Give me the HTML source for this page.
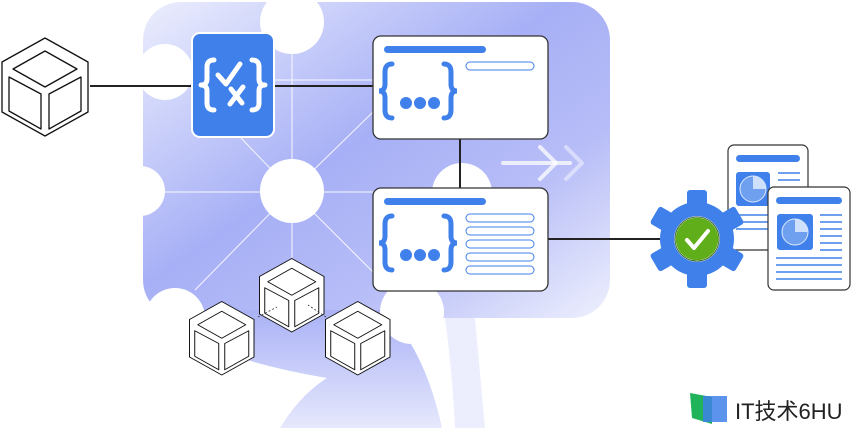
<!DOCTYPE html>
<html><head><meta charset="utf-8"><style>
html,body{margin:0;padding:0;background:#fff;width:851px;height:428px;overflow:hidden;}
svg{display:block}
</style></head><body>
<svg width="851" height="428" viewBox="0 0 851 428" xmlns="http://www.w3.org/2000/svg">
<defs>
<linearGradient id="bg" x1="0" y1="0" x2="1" y2="1">
<stop offset="0" stop-color="#eceefd"/>
<stop offset="0.45" stop-color="#a7b0f6"/>
<stop offset="0.7" stop-color="#b7bdf7"/>
<stop offset="1" stop-color="#eef0fd"/>
</linearGradient>
<linearGradient id="bg2" x1="0" y1="0" x2="0" y2="1">
<stop offset="0" stop-color="#aab2f6"/>
<stop offset="1" stop-color="#e6e8fc"/>
</linearGradient>
<g id="cube" fill="#fff" stroke="#111" stroke-width="1.3" stroke-linejoin="round">
<polygon points="45,2 88,26 88,76 45,100 2,76 2,26"/>
<polygon points="45,15 77,33 45,51 13,33"/>
<polygon points="9,41 41,58 41,93 9,75"/>
<polygon points="49,58 81,41 81,75 49,93"/>
</g>
</defs>
<rect x="143" y="2" width="467" height="316" rx="38" fill="url(#bg)"/>
<path d="M195 310 L385 310 Q425 350 442 428 L280 428 Q300 395 327 378 Q250 365 200 343 Z" fill="url(#bg2)"/>
<path d="M445 318 L475 318 L485 428 L455 428 Q452 370 445 318 Z" fill="#eceefd"/>
<g fill="#fff">
<circle cx="292" cy="22" r="32"/>
<circle cx="165" cy="72" r="28"/>
<circle cx="140" cy="191" r="25"/>
<circle cx="175" cy="318" r="30"/>
<circle cx="462" cy="193" r="30"/>
<circle cx="412" cy="312" r="32"/>
</g>
<g stroke="#fff" stroke-width="1" opacity="0.9">
<line x1="292" y1="54" x2="292" y2="300"/>
<line x1="143" y1="192" x2="373" y2="192"/>
<line x1="240" y1="137" x2="292" y2="191"/>
<line x1="373" y1="112" x2="292" y2="191"/>
<line x1="373" y1="272" x2="292" y2="191"/>
<line x1="195" y1="290" x2="292" y2="191"/>
<line x1="274" y1="80" x2="373" y2="80"/>
</g>
<circle cx="292" cy="191" r="32" fill="#fff"/>
<g fill="none" stroke="#fff" stroke-width="4" stroke-linecap="round" stroke-linejoin="round">
<line x1="503" y1="163" x2="570" y2="163" opacity="0.75"/>
<polyline points="540,147 556,163 540,179" opacity="0.75"/>
<polyline points="566,147 582,163 566,179" opacity="0.45"/>
</g>
<g stroke="#222" stroke-width="2">
<line x1="90" y1="86" x2="192" y2="86"/>
<line x1="274" y1="86" x2="373" y2="86"/>
<line x1="460" y1="139" x2="460" y2="188"/>
<line x1="548" y1="239" x2="660" y2="239"/>
</g>
<rect x="192" y="33" width="82" height="104" rx="8" fill="#3f80ea" stroke="#fff" stroke-width="2"/>
<g fill="none" stroke="#fff" stroke-width="5" stroke-linecap="round" stroke-linejoin="round">
<path d="M214 60 q-7 0 -7 7 v12 q0 6 -6 6 q6 0 6 6 v12 q0 7 7 7"/>
<path d="M252 60 q7 0 7 7 v12 q0 6 6 6 q-6 0 -6 6 v12 q0 7 -7 7"/>
<polyline points="218,75 226,84 240,64"/>
<line x1="230" y1="104" x2="243" y2="87"/>
<line x1="231" y1="89" x2="242" y2="103"/>
</g>
<g>
<rect x="373" y="36" width="175" height="103" rx="8" fill="#fff" stroke="#333" stroke-width="1.3"/>
<rect x="384" y="46" width="102" height="7" rx="3.5" fill="#3f80ea"/>
<rect x="466" y="62" width="68" height="8" rx="4" fill="#fff" stroke="#3f80ea" stroke-width="1"/>
<rect x="373" y="188" width="175" height="103" rx="8" fill="#fff" stroke="#333" stroke-width="1.3"/>
<rect x="384" y="198" width="102" height="7" rx="3.5" fill="#3f80ea"/>
<g fill="#fff" stroke="#3f80ea" stroke-width="1">
<rect x="466" y="214" width="68" height="8" rx="4"/>
<rect x="466" y="227" width="68" height="8" rx="4"/>
<rect x="466" y="240" width="68" height="8" rx="4"/>
<rect x="466" y="253" width="68" height="8" rx="4"/>
<rect x="466" y="266" width="68" height="8" rx="4"/>
</g>
<g fill="none" stroke="#3f80ea" stroke-width="5" stroke-linecap="round">
<path d="M392 64 q-7 0 -7 8 v12 q0 7 -6 7 q6 0 6 7 v12 q0 8 7 8"/>
<path d="M444 64 q7 0 7 8 v12 q0 7 6 7 q-6 0 -6 7 v12 q0 8 -7 8"/>
<path d="M392 216 q-7 0 -7 8 v12 q0 7 -6 7 q6 0 6 7 v12 q0 8 7 8"/>
<path d="M444 216 q7 0 7 8 v12 q0 7 6 7 q-6 0 -6 7 v12 q0 8 -7 8"/>
</g>
<g fill="#3f80ea">
<circle cx="406" cy="103" r="6"/><circle cx="420" cy="103" r="6"/><circle cx="434" cy="103" r="6"/>
<circle cx="406" cy="255" r="6"/><circle cx="420" cy="255" r="6"/><circle cx="434" cy="255" r="6"/>
</g>
</g>
<use href="#cube" x="0" y="36"/>
<use href="#cube" transform="translate(258,257) scale(0.75)"/>
<use href="#cube" transform="translate(188,300) scale(0.75)"/>
<use href="#cube" transform="translate(324,300) scale(0.75)"/>
<g stroke="#333" stroke-width="0.8" stroke-dasharray="2,2" fill="none">
<line x1="258" y1="317" x2="277" y2="307"/>
<line x1="326" y1="317" x2="308" y2="305"/>
</g>
<g>
<rect x="728" y="145" width="80" height="105" rx="6" fill="#fff" stroke="#333" stroke-width="1.2"/>
<rect x="736" y="155" width="64" height="7" rx="3.5" fill="#3f80ea"/>
<rect x="736" y="172" width="34" height="34" rx="3" fill="#3f80ea"/>
<circle cx="753" cy="189" r="13" fill="#6fa0f0" stroke="#dce8fd"/>
<path d="M753 189 V176 A13 13 0 0 1 766 189 Z" fill="#cfe0fc"/>
<g stroke="#3f80ea" stroke-width="1.5"><line x1="778" y1="173" x2="800" y2="173"/><line x1="778" y1="180" x2="800" y2="180"/><line x1="736" y1="215" x2="768" y2="215"/><line x1="736" y1="222" x2="768" y2="222"/><line x1="736" y1="229" x2="768" y2="229"/></g>
<rect x="768" y="187" width="82" height="103" rx="6" fill="#fff" stroke="#333" stroke-width="1.2"/>
<rect x="776" y="197" width="66" height="7" rx="3.5" fill="#3f80ea"/>
<rect x="777" y="214" width="36" height="36" rx="3" fill="#3f80ea"/>
<circle cx="795" cy="232" r="13" fill="#6fa0f0" stroke="#dce8fd"/>
<path d="M795 232 V219 A13 13 0 0 1 808 232 Z" fill="#cfe0fc"/>
<g stroke="#3f80ea" stroke-width="1.5">
<line x1="820" y1="215" x2="842" y2="215"/><line x1="820" y1="222" x2="842" y2="222"/><line x1="820" y1="229" x2="842" y2="229"/><line x1="820" y1="236" x2="842" y2="236"/><line x1="820" y1="243" x2="842" y2="243"/><line x1="820" y1="250" x2="842" y2="250"/>
<line x1="776" y1="258" x2="842" y2="258"/><line x1="776" y1="265" x2="842" y2="265"/><line x1="776" y1="272" x2="842" y2="272"/><line x1="776" y1="279" x2="842" y2="279"/></g>
</g>
<g transform="translate(697,239)" fill="#3f80ea">
<circle r="37"/>
<g id="t"><rect x="-10" y="-49" width="20" height="20" rx="3"/></g>
<use href="#t" transform="rotate(60)"/><use href="#t" transform="rotate(120)"/><use href="#t" transform="rotate(180)"/><use href="#t" transform="rotate(240)"/><use href="#t" transform="rotate(300)"/>
<circle r="22" fill="#5fae1a" stroke="#fff" stroke-width="1.5"/>
<circle r="22" fill="none" stroke="#2b5a10" stroke-width="0.8"/>
<polyline points="-10,1 -3,9 11,-8" fill="none" stroke="#fff" stroke-width="4" stroke-linecap="round" stroke-linejoin="round"/>
</g>
<path d="M690 393 L712 397 L712 424 L692 418 Z" fill="#1fb35a"/>
<rect x="703" y="396" width="24" height="26" fill="#3f80ea" opacity="0.85"/>
<text x="735" y="419" font-family="'Liberation Sans','Noto Sans CJK SC',sans-serif" font-size="22" fill="#222">IT技术6HU</text>
</svg>
</body></html>
